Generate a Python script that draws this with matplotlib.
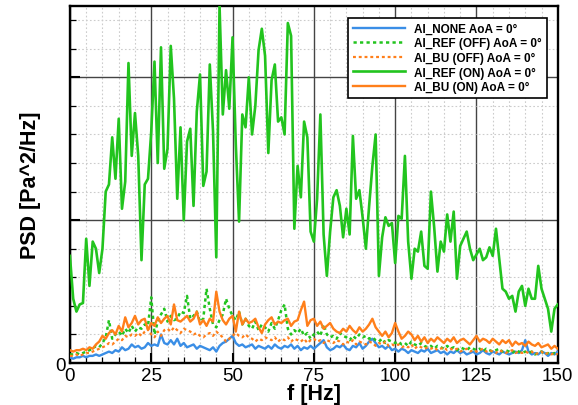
import numpy as np
import matplotlib
matplotlib.use("Agg")
import matplotlib.pyplot as plt
from matplotlib.ticker import MultipleLocator

freq = list(range(0, 151))

ref_on = [0.75, 0.45, 0.36, 0.41, 0.42, 0.87, 0.54, 0.85, 0.80, 0.63,
          0.80, 1.20, 1.25, 1.58, 1.29, 1.71, 1.08, 1.27, 2.10, 1.45,
          1.75, 1.45, 0.72, 1.25, 1.29, 1.62, 2.11, 1.40, 2.21, 1.36,
          1.50, 2.22, 1.85, 1.15, 1.65, 1.00, 1.55, 1.64, 1.10, 1.76,
          2.02, 1.24, 1.34, 2.09, 1.62, 0.74, 2.50, 1.74, 2.05, 1.78,
          2.28, 1.53, 0.99, 1.74, 1.65, 2.00, 1.60, 1.80, 2.19, 2.34,
          2.15, 1.47, 1.98, 2.09, 1.69, 1.72, 1.60, 2.38, 2.29, 0.94,
          1.38, 1.16, 1.69, 1.58, 0.92, 0.85, 1.15, 1.74, 0.90, 0.61,
          0.92, 1.16, 1.21, 1.10, 0.88, 1.08, 0.90, 1.59, 1.15, 1.21,
          1.02, 0.80, 1.10, 1.38, 1.60, 0.61, 0.88, 1.02, 0.96, 0.98,
          0.70, 1.03, 1.01, 1.45, 0.85, 0.59, 0.80, 0.78, 0.92, 0.68,
          0.66, 1.20, 0.95, 0.64, 0.85, 0.78, 1.04, 0.85, 1.06, 0.59,
          0.82, 0.87, 0.92, 0.80, 0.72, 0.76, 0.80, 0.72, 0.74, 0.81,
          0.75, 0.94, 0.73, 0.52, 0.50, 0.45, 0.47, 0.36, 0.50, 0.54,
          0.40, 0.52, 0.45, 0.45, 0.68, 0.52, 0.45, 0.38, 0.22, 0.38,
          0.41]

none = [0.04, 0.03, 0.04, 0.04, 0.05, 0.04, 0.05, 0.05, 0.06, 0.05,
        0.06, 0.07, 0.08, 0.07, 0.09, 0.08, 0.11, 0.09, 0.10, 0.13,
        0.11, 0.12, 0.10, 0.11, 0.14, 0.12, 0.13, 0.12, 0.20, 0.14,
        0.13, 0.16, 0.13, 0.17, 0.12, 0.14, 0.11, 0.12, 0.13, 0.10,
        0.12, 0.11, 0.10, 0.09, 0.11, 0.08, 0.12, 0.14, 0.15, 0.17,
        0.19, 0.14, 0.12, 0.13, 0.11, 0.12, 0.13, 0.10, 0.12, 0.11,
        0.10, 0.12, 0.10, 0.13, 0.11, 0.10, 0.12, 0.11, 0.13, 0.10,
        0.12, 0.09, 0.11, 0.10, 0.12, 0.10, 0.12, 0.14, 0.16, 0.11,
        0.09, 0.10, 0.12, 0.11, 0.13, 0.10, 0.09, 0.12, 0.11, 0.14,
        0.10, 0.12, 0.15, 0.17, 0.14, 0.11, 0.12, 0.10, 0.12, 0.09,
        0.10, 0.08, 0.10, 0.09, 0.07, 0.09, 0.08, 0.07, 0.09, 0.08,
        0.10, 0.07, 0.08, 0.09, 0.07, 0.08, 0.06, 0.08, 0.07, 0.09,
        0.07, 0.08, 0.06, 0.07, 0.08, 0.06, 0.07, 0.09, 0.07, 0.06,
        0.08, 0.07, 0.06, 0.08, 0.07, 0.06, 0.07, 0.08, 0.07, 0.09,
        0.16, 0.08, 0.06, 0.07, 0.06, 0.08, 0.07, 0.05, 0.07, 0.06,
        0.08]

bu_on = [0.09, 0.08, 0.09, 0.09, 0.10, 0.09, 0.11, 0.10, 0.13, 0.15,
         0.19, 0.17, 0.21, 0.23, 0.20, 0.26, 0.22, 0.32, 0.25, 0.28,
         0.33, 0.27, 0.30, 0.31, 0.23, 0.28, 0.26, 0.32, 0.28, 0.31,
         0.33, 0.27, 0.41, 0.30, 0.29, 0.31, 0.33, 0.29, 0.31, 0.36,
         0.27, 0.30, 0.26, 0.31, 0.29, 0.50, 0.36, 0.30, 0.27, 0.31,
         0.33, 0.22, 0.36, 0.27, 0.31, 0.28, 0.29, 0.31, 0.25, 0.21,
         0.27, 0.30, 0.32, 0.27, 0.29, 0.28, 0.30, 0.31, 0.26, 0.29,
         0.30, 0.37, 0.43, 0.26, 0.30, 0.31, 0.26, 0.29, 0.24, 0.26,
         0.28, 0.24, 0.22, 0.21, 0.24, 0.22, 0.26, 0.23, 0.21, 0.25,
         0.22, 0.24, 0.27, 0.31, 0.25, 0.22, 0.19, 0.22, 0.18, 0.21,
         0.28, 0.22, 0.17, 0.19, 0.22, 0.20, 0.16, 0.19, 0.15, 0.18,
         0.14, 0.17, 0.15, 0.18, 0.16, 0.14, 0.17, 0.15, 0.18, 0.14,
         0.16, 0.17, 0.15, 0.13, 0.16, 0.19, 0.15, 0.17, 0.16, 0.14,
         0.17, 0.15, 0.13, 0.16, 0.14, 0.16, 0.12, 0.15, 0.13, 0.14,
         0.12, 0.15, 0.13, 0.12, 0.14, 0.11, 0.12, 0.13, 0.10, 0.12,
         0.10]

ref_off = [0.06, 0.06, 0.07, 0.06, 0.07, 0.08, 0.09, 0.10, 0.12, 0.11,
           0.14, 0.18, 0.30, 0.17, 0.20, 0.22, 0.19, 0.24, 0.21, 0.26,
           0.22, 0.25, 0.24, 0.27, 0.26, 0.46, 0.20, 0.29, 0.34, 0.38,
           0.29, 0.33, 0.30, 0.31, 0.36, 0.35, 0.47, 0.31, 0.33, 0.36,
           0.29, 0.31, 0.52, 0.38, 0.27, 0.25, 0.30, 0.34, 0.45, 0.38,
           0.33, 0.30, 0.36, 0.27, 0.31, 0.26, 0.24, 0.29, 0.23, 0.27,
           0.25, 0.22, 0.28, 0.24, 0.30, 0.37, 0.41, 0.24, 0.20, 0.23,
           0.21, 0.24, 0.19, 0.21, 0.17, 0.20, 0.22, 0.19, 0.27, 0.20,
           0.18, 0.19, 0.17, 0.21, 0.19, 0.18, 0.16, 0.19, 0.17, 0.20,
           0.18, 0.19, 0.17, 0.18, 0.16, 0.15, 0.17, 0.14, 0.16, 0.15,
           0.14, 0.15, 0.13, 0.14, 0.12, 0.15, 0.13, 0.12, 0.14, 0.12,
           0.11, 0.12, 0.10, 0.12, 0.11, 0.10, 0.12, 0.10, 0.11, 0.09,
           0.11, 0.10, 0.09, 0.11, 0.10, 0.09, 0.10, 0.08, 0.10, 0.09,
           0.08, 0.09, 0.10, 0.08, 0.09, 0.08, 0.07, 0.09, 0.08, 0.07,
           0.08, 0.07, 0.08, 0.06, 0.07, 0.08, 0.06, 0.07, 0.06, 0.07,
           0.06]

bu_off = [0.05, 0.05, 0.06, 0.05, 0.06, 0.07, 0.07, 0.08, 0.09, 0.10,
          0.11, 0.12, 0.14, 0.13, 0.15, 0.17, 0.16, 0.19, 0.18, 0.20,
          0.19, 0.21, 0.19, 0.22, 0.24, 0.20, 0.18, 0.22, 0.19, 0.23,
          0.24, 0.22, 0.25, 0.23, 0.21, 0.24, 0.23, 0.22, 0.20, 0.21,
          0.19, 0.18, 0.20, 0.21, 0.19, 0.22, 0.20, 0.18, 0.15, 0.17,
          0.19, 0.21, 0.19, 0.18, 0.20, 0.18, 0.17, 0.15, 0.17, 0.16,
          0.18, 0.17, 0.16, 0.18, 0.15, 0.17, 0.16, 0.18, 0.15, 0.17,
          0.16, 0.15, 0.17, 0.14, 0.16, 0.17, 0.15, 0.16, 0.14, 0.16,
          0.15, 0.14, 0.16, 0.15, 0.13, 0.15, 0.14, 0.16, 0.13, 0.15,
          0.14, 0.13, 0.15, 0.14, 0.12, 0.14, 0.13, 0.15, 0.12, 0.13,
          0.12, 0.13, 0.11, 0.12, 0.11, 0.13, 0.10, 0.12, 0.11, 0.10,
          0.11, 0.10, 0.11, 0.09, 0.10, 0.11, 0.09, 0.10, 0.09, 0.10,
          0.08, 0.09, 0.10, 0.08, 0.09, 0.08, 0.09, 0.10, 0.08, 0.09,
          0.08, 0.07, 0.09, 0.08, 0.07, 0.08, 0.09, 0.07, 0.08, 0.07,
          0.08, 0.07, 0.08, 0.06, 0.07, 0.08, 0.06, 0.07, 0.06, 0.07,
          0.06]

labels = ["AI_NONE AoA = 0\u00b0", "AI_REF (OFF) AoA = 0\u00b0",
          "AI_BU (OFF) AoA = 0\u00b0", "AI_REF (ON) AoA = 0\u00b0",
          "AI_BU (ON) AoA = 0\u00b0"]

xticks = [0, 25, 50, 75, 100, 125, 150]
yticks = [0, 1, 2]
ytick_labels = ["0", "", ""]

plt.rcParams['font.family'] = ['Liberation Sans', 'DejaVu Sans']

blue = "#3a8ee6"
green = "#22c41e"
orange = "#ff7f1a"

fig = plt.figure(figsize=(5.78, 4.06), dpi=100)
ax = fig.add_axes([0.121, 0.1034, 0.844, 0.8796])

ax.plot(freq, none, color=blue, lw=1.7, label=labels[0], zorder=3)
ax.plot(freq, ref_off, color=green, lw=1.8, ls=(0, (1.3, 1.3)), label=labels[1], zorder=3)
ax.plot(freq, bu_off, color=orange, lw=1.6, ls=(0, (1.3, 1.3)), label=labels[2], zorder=3)
ax.plot(freq, ref_on, color=green, lw=1.9, label=labels[3], zorder=4)
ax.plot(freq, bu_on, color=orange, lw=1.7, label=labels[4], zorder=3)

ax.set_xlim(0, 150)
ax.set_ylim(0, 2.5)
ax.set_xticks(xticks)
ax.set_yticks(yticks)
ax.set_yticklabels(ytick_labels)
ax.xaxis.set_minor_locator(MultipleLocator(5))
ax.yaxis.set_minor_locator(MultipleLocator(0.2))

ax.grid(which='major', color='#444444', lw=1.0, ls='-', zorder=1)
ax.grid(which='minor', color='#cccccc', lw=0.8, ls=(0, (1.5, 2)), zorder=0)
ax.set_axisbelow(True)

for s in ax.spines.values():
    s.set_linewidth(1.7)
    s.set_color('black')

ax.tick_params(axis='both', which='major', direction='in', length=7, width=1.5,
               labelsize=13.5, pad=3)
ax.tick_params(axis='both', which='minor', direction='in', length=4, width=0.9)

ax.set_xlabel("f [Hz]", fontsize=15.5, fontweight='bold')
ax.xaxis.set_label_coords(0.5, -0.056)
ax.set_ylabel("PSD [Pa^2/Hz]", fontsize=15.5, fontweight='bold', labelpad=10)

leg = ax.legend(loc='upper right', bbox_to_anchor=(0.977, 0.966),
                prop={'weight': 'bold', 'size': 8.5}, frameon=True, fancybox=False,
                edgecolor='black', framealpha=1, handlelength=4.4,
                borderpad=0.4, labelspacing=0.22, handletextpad=0.8,
                borderaxespad=0)
leg.get_frame().set_linewidth(1.2)
leg.set_zorder(10)

fig.savefig("out.png", dpi=100)
